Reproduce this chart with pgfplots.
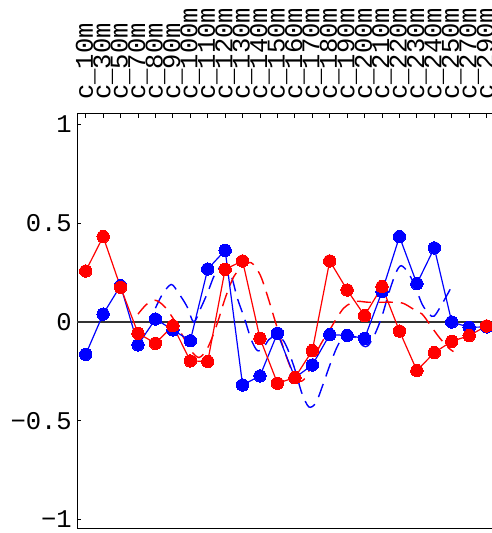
\documentclass[border=0pt]{standalone}
\usepackage{fontspec}
\setmainfont{Liberation Mono}
\usepackage{pgfplots}
\pgfplotsset{compat=1.18}
\pgfplotstableread{
x y
0 -0.164
1 0.04
2 0.184
3 -0.116
4 0.015
5 -0.04
6 -0.095
7 0.268
8 0.363
9 -0.319
10 -0.273
11 -0.057
12 -0.282
13 -0.218
14 -0.064
15 -0.068
16 -0.083
17 0.154
18 0.432
19 0.194
20 0.375
21 0.0
22 -0.027
23 -0.025
}\bluedata
\pgfplotstableread{
x y
0 0.258
1 0.432
2 0.176
3 -0.057
4 -0.108
5 -0.019
6 -0.197
7 -0.2
8 0.267
9 0.309
10 -0.083
11 -0.31
12 -0.282
13 -0.145
14 0.309
15 0.162
16 0.032
17 0.179
18 -0.046
19 -0.246
20 -0.155
21 -0.098
22 -0.069
23 -0.02
}\reddata
\pgfplotstableread{
x y
4.0 0.07
4.4 0.14
4.9 0.19
5.3 0.15
5.8 0.08
6.2 0.0
6.6 0.07
7.0 0.15
7.4 0.24
7.8 0.285
8.1 0.275
8.4 0.22
8.7 0.12
9.1 0.02
9.5 -0.09
9.85 -0.145
10.2 -0.13
10.5 -0.09
10.9 -0.07
11.3 -0.09
11.6 -0.14
12.0 -0.24
12.4 -0.36
12.8 -0.43
13.2 -0.41
13.6 -0.32
14.0 -0.22
14.4 -0.13
14.8 -0.07
15.1 -0.06
15.5 -0.08
15.9 -0.12
16.2 -0.12
16.6 -0.06
17.0 0.03
17.4 0.15
17.8 0.25
18.1 0.285
18.5 0.25
18.9 0.18
19.3 0.09
19.7 0.04
20.0 0.03
20.5 0.1
21.0 0.18
}\bluefit
\pgfplotstableread{
x y
3.0 0.04
3.5 0.09
4.0 0.11
4.5 0.08
5.0 0.02
5.5 -0.06
6.0 -0.14
6.5 -0.18
7.0 -0.13
7.5 -0.02
8.0 0.12
8.5 0.23
9.0 0.28
9.5 0.3
10.0 0.24
10.4 0.14
10.85 0.01
11.3 -0.12
11.8 -0.24
12.3 -0.3
12.7 -0.27
13.0 -0.2
13.5 -0.11
14.0 -0.04
14.4 0.02
14.8 0.07
15.2 0.095
15.6 0.105
16.2 0.1
17.0 0.1
17.6 0.1
18.2 0.095
18.8 0.065
19.3 0.04
19.8 -0.02
20.3 -0.08
20.8 -0.13
21.1 -0.15
}\redfit
\begin{document}
\begin{tikzpicture}
\useasboundingbox (0,0) rectangle (492bp,533bp);
\begin{axis}[
  at={(77bp,5bp)}, anchor=south west,
  scale only axis, width=416bp, height=414bp,
  xmin=-0.5, xmax=23.367, ymin=-1.043, ymax=1.053,
  clip=false,
  axis line style={line width=1bp, black},
  xtick={0,...,23},
  xticklabels={c\_10m,c\_30m,c\_50m,c\_70m,c\_80m,c\_90m,c\_100m,c\_110m,c\_120m,c\_130m,c\_140m,c\_150m,c\_160m,c\_170m,c\_180m,c\_190m,c\_200m,c\_210m,c\_220m,c\_230m,c\_240m,c\_250m,c\_270m,c\_290m},
  xtick pos=right, xticklabel pos=right,
  xticklabel style={rotate=90, anchor=west, inner sep=0pt, font=\fontsize{25.5bp}{28bp}\selectfont},
  xticklabel shift=14bp,
  ytick={-1,-0.5,0,0.5,1},
  yticklabels={−1,−0.5,0,0.5,1},
  ytick pos=left,
  yticklabel style={anchor=east, inner sep=0pt, font=\fontsize{25.5bp}{28bp}\selectfont},
  yticklabel shift=5bp,
  tick align=inside,
  major tick length=4bp,
  tick style={line width=0.8bp, black},
]
\addplot[line width=2bp, black!80, no marks] coordinates {(-0.5,0) (23.367,0)};
\addplot[blue, line width=1.4bp, smooth, no marks, dash pattern=on 14bp off 8bp] table {\bluefit};
\addplot[red, line width=1.4bp, smooth, no marks, dash pattern=on 14bp off 8bp] table {\redfit};
\addplot[blue, line width=1.2bp, mark=*, mark size=6.2bp, mark options={solid, fill=blue, draw=blue, line width=0pt}] table {\bluedata};
\addplot[red, line width=1.2bp, mark=*, mark size=6.2bp, mark options={solid, fill=red, draw=red, line width=0pt}] table {\reddata};
\end{axis}
\end{tikzpicture}
\end{document}
